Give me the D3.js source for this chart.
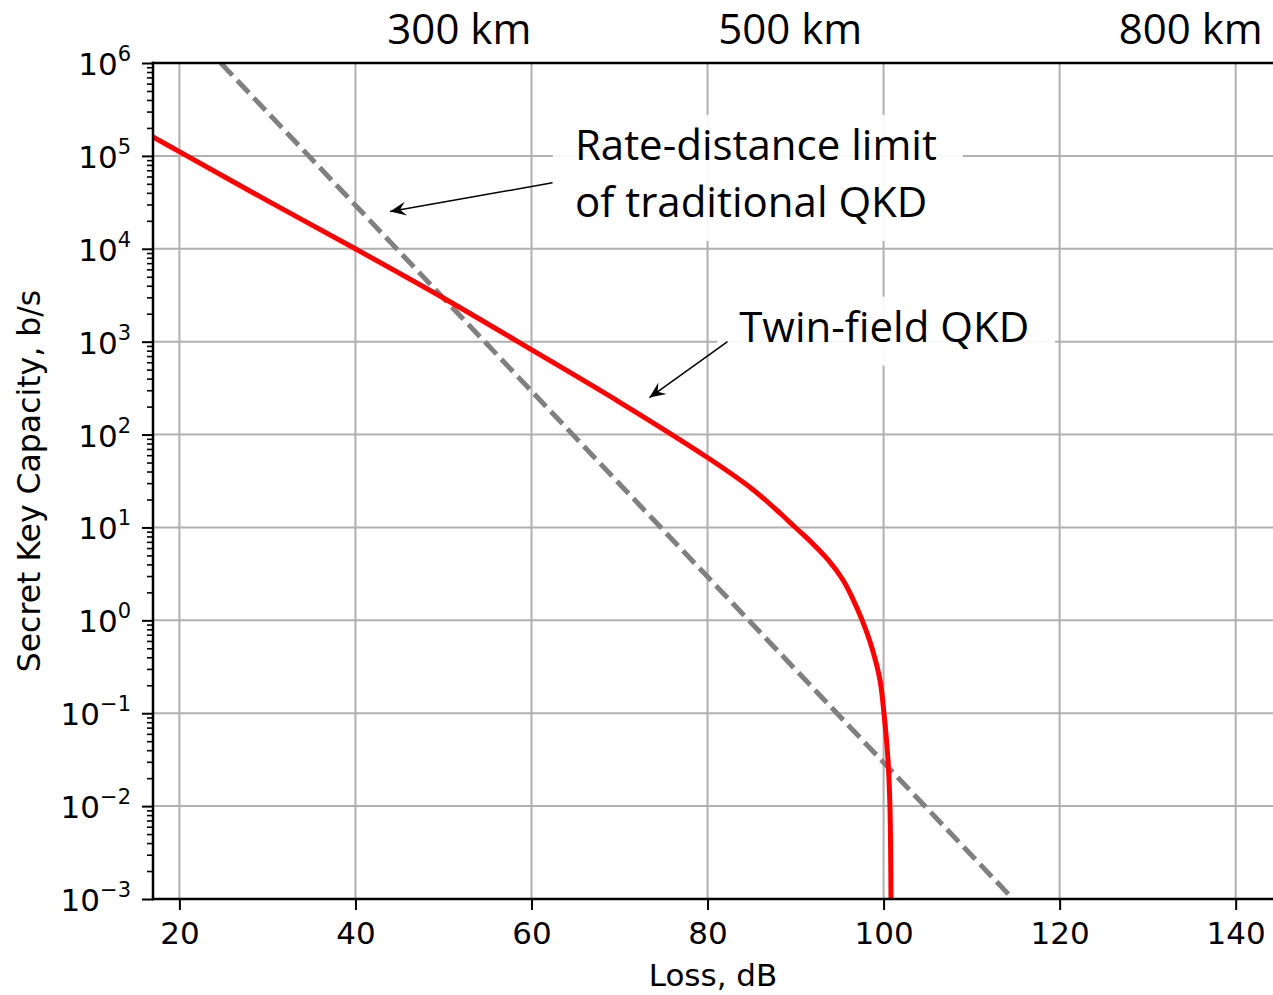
<!DOCTYPE html>
<html>
<head>
<meta charset="utf-8">
<script src="https://cdn.jsdelivr.net/npm/d3@7"></script>
<style>
  body { margin: 0; background: #fff; }
  svg { display: block; }
</style>
</head>
<body>
<svg id="chart" width="1273" height="995"></svg>
<script>
// ---- data ----
const lossTicks = [20, 40, 60, 80, 100, 120, 140];
const rateExponents = [-3, -2, -1, 0, 1, 2, 3, 4, 5, 6];

// Twin-field QKD secret key capacity (b/s) versus channel loss (dB)
const twinLoss = [17.0, 20, 30, 40, 50, 60, 70, 80, 85, 88.23, 89.93, 91.87, 93.71, 95.39, 96.41, 97.55, 98.68, 99.59, 100.04, 100.5, 100.72, 100.84];
const twinRate = [1.6e5, 1.11e5, 3.3e4, 1.0e4, 2.95e3, 820, 224, 56.6, 26.3, 14.3, 10.1, 6.81, 4.47, 2.72, 1.78, 1.01, 0.504, 0.228, 0.1007, 0.0314, 0.01, 0.001];

// Rate-distance limit of traditional QKD
const plobLoss = [24.7, 50.7, 100, 114.7];
const plobRate = [1e6, 2.5e3, 2.95e-2, 1e-3];

// distance labels along the top edge
const kmLabels = ["300 km", "500 km", "800 km"];
const kmLoss = [51.8, 89.4, 134.9];

// annotations
const limitText = ["Rate-distance limit", "of traditional QKD"];
const limitTextAt = [64.93, 9.05e4];
const limitArrowFrom = [62.39, 5.13e4];
const limitArrowTo = [43.94, 2.52e4];

const twinText = ["Twin-field QKD"];
const twinTextAt = [83.6, 1.0e3];
const twinArrowFrom = [82.27, 1.0e3];
const twinArrowTo = [73.4, 250];

// ---- layout ----
const svg = d3.select("#chart");
const plot = { left: 153, top: 63, right: 1273, bottom: 899 };

const x = d3.scaleLinear().domain([17, 144.24]).range([plot.left, plot.right]);
const y = d3.scaleLog().domain([1e-3, 1e6]).range([plot.bottom, plot.top]);

const tickFont = "'DejaVu Sans', sans-serif";
const noteFont = "'Open Sans', 'Noto Sans', sans-serif";

svg.append("defs").append("clipPath").attr("id", "plotClip")
  .append("rect")
  .attr("x", plot.left).attr("y", plot.top)
  .attr("width", plot.right - plot.left).attr("height", plot.bottom - plot.top);

// ---- grid ----
const grid = svg.append("g").attr("stroke", "#b0b0b0").attr("stroke-width", 2);
grid.selectAll("line.gx").data(lossTicks).join("line")
  .attr("x1", d => x(d)).attr("x2", d => x(d))
  .attr("y1", plot.top).attr("y2", plot.bottom);
grid.selectAll("line.gy").data(rateExponents).join("line")
  .attr("x1", plot.left).attr("x2", plot.right)
  .attr("y1", d => y(Math.pow(10, d))).attr("y2", d => y(Math.pow(10, d)));

// ---- curves ----
const curves = svg.append("g").attr("clip-path", "url(#plotClip)");

const plobLine = d3.line().x(d => x(d[0])).y(d => y(d[1]));
curves.append("path")
  .datum(d3.zip(plobLoss, plobRate))
  .attr("d", plobLine)
  .attr("fill", "none")
  .attr("stroke", "#808080")
  .attr("stroke-width", 5)
  .attr("stroke-dasharray", "17,7");

const twinLine = d3.line().x(d => x(d[0])).y(d => y(d[1])).curve(d3.curveCatmullRom.alpha(0.5));
curves.append("path")
  .datum(d3.zip(twinLoss, twinRate))
  .attr("d", twinLine)
  .attr("fill", "none")
  .attr("stroke", "#ff0000")
  .attr("stroke-width", 5)
  .attr("stroke-linejoin", "round");

// ---- axes ----
const minorTicks = [];
for (let e = -3; e < 6; e++) {
  for (let m = 2; m <= 9; m++) minorTicks.push(m * Math.pow(10, e));
}

const yAxisMinor = d3.axisLeft(y).tickValues(minorTicks).tickSize(6).tickFormat("");
const gyMinor = svg.append("g").attr("transform", `translate(${plot.left},0)`).call(yAxisMinor);
gyMinor.select(".domain").remove();
gyMinor.selectAll(".tick line").attr("stroke", "#000").attr("stroke-width", 1.6);

const yAxis = d3.axisLeft(y).tickValues(rateExponents.map(e => Math.pow(10, e))).tickSize(11).tickFormat("");
const gy = svg.append("g").attr("transform", `translate(${plot.left},0)`).call(yAxis);
gy.select(".domain").remove();
gy.selectAll(".tick line").attr("stroke", "#000").attr("stroke-width", 2);

// y tick labels: 10 with superscript exponent
const yLab = svg.append("g").attr("font-family", tickFont).attr("fill", "#000");
rateExponents.forEach(e => {
  const t = yLab.append("text")
    .attr("x", plot.left - 22)
    .attr("y", y(Math.pow(10, e)) + 12)
    .attr("text-anchor", "end")
    .attr("font-size", 31);
  t.append("tspan").text("10");
  t.append("tspan")
    .attr("font-size", 21)
    .attr("dy", -14)
    .text(e < 0 ? "\u2212" + Math.abs(e) : String(e));
});

const xAxis = d3.axisBottom(x).tickValues(lossTicks).tickSize(11).tickPadding(12).tickFormat(d3.format("d"));
const gx = svg.append("g").attr("transform", `translate(0,${plot.bottom})`).call(xAxis);
gx.select(".domain").remove();
gx.selectAll(".tick line").attr("stroke", "#000").attr("stroke-width", 2);
gx.selectAll(".tick text")
  .attr("font-family", tickFont).attr("font-size", 31).attr("fill", "#000");

// spines
const spines = svg.append("g").attr("stroke", "#000").attr("stroke-width", 2.5).attr("stroke-linecap", "square");
spines.append("line").attr("x1", plot.left).attr("x2", plot.left).attr("y1", plot.top).attr("y2", plot.bottom);
spines.append("line").attr("x1", plot.left).attr("x2", plot.right).attr("y1", plot.top).attr("y2", plot.top);
spines.append("line").attr("x1", plot.left).attr("x2", plot.right).attr("y1", plot.bottom).attr("y2", plot.bottom);

// axis titles
svg.append("text")
  .attr("x", (plot.left + plot.right) / 2)
  .attr("y", 986)
  .attr("text-anchor", "middle")
  .attr("font-family", tickFont).attr("font-size", 31)
  .text("Loss, dB");

svg.append("text")
  .attr("transform", `translate(40,${(plot.top + plot.bottom) / 2}) rotate(-90)`)
  .attr("text-anchor", "middle")
  .attr("font-family", tickFont).attr("font-size", 31.5)
  .text("Secret Key Capacity, b/s");

// distance labels above the plot
svg.append("g").selectAll("text").data(kmLabels).join("text")
  .attr("x", (d, i) => x(kmLoss[i]))
  .attr("y", 44)
  .attr("text-anchor", "middle")
  .attr("font-family", noteFont).attr("font-size", 42)
  .attr("fill", "#000")
  .text(d => d);

// ---- annotations ----
const defs = svg.select("defs");
defs.append("marker")
  .attr("id", "head")
  .attr("markerUnits", "userSpaceOnUse")
  .attr("viewBox", "-17 -8 18 16")
  .attr("refX", 0).attr("refY", 0)
  .attr("markerWidth", 18).attr("markerHeight", 16)
  .attr("orient", "auto")
  .append("path")
  .attr("d", "M0,0 L-16,-7 L-10,0 L-16,7 Z")
  .attr("fill", "#000");

function annotate(lines, at, from, to) {
  const g = svg.append("g");
  const box = g.append("rect").attr("fill", "#fff").attr("fill-opacity", 0.9);
  const txt = g.append("text")
    .attr("font-family", noteFont).attr("font-size", 42).attr("fill", "#000");
  lines.forEach((s, i) => {
    txt.append("tspan")
      .attr("x", x(at[0]))
      .attr("y", y(at[1]) + i * 57)
      .text(s);
  });
  const bb = txt.node().getBBox();
  box.attr("x", bb.x - 22).attr("y", bb.y)
     .attr("width", bb.width + 48).attr("height", bb.height + 12);
  svg.append("line")
    .attr("x1", x(from[0])).attr("y1", y(from[1]))
    .attr("x2", x(to[0])).attr("y2", y(to[1]))
    .attr("stroke", "#000").attr("stroke-width", 1.5)
    .attr("marker-end", "url(#head)");
}

annotate(limitText, limitTextAt, limitArrowFrom, limitArrowTo);
annotate(twinText, twinTextAt, twinArrowFrom, twinArrowTo);
</script>
</body>
</html>
